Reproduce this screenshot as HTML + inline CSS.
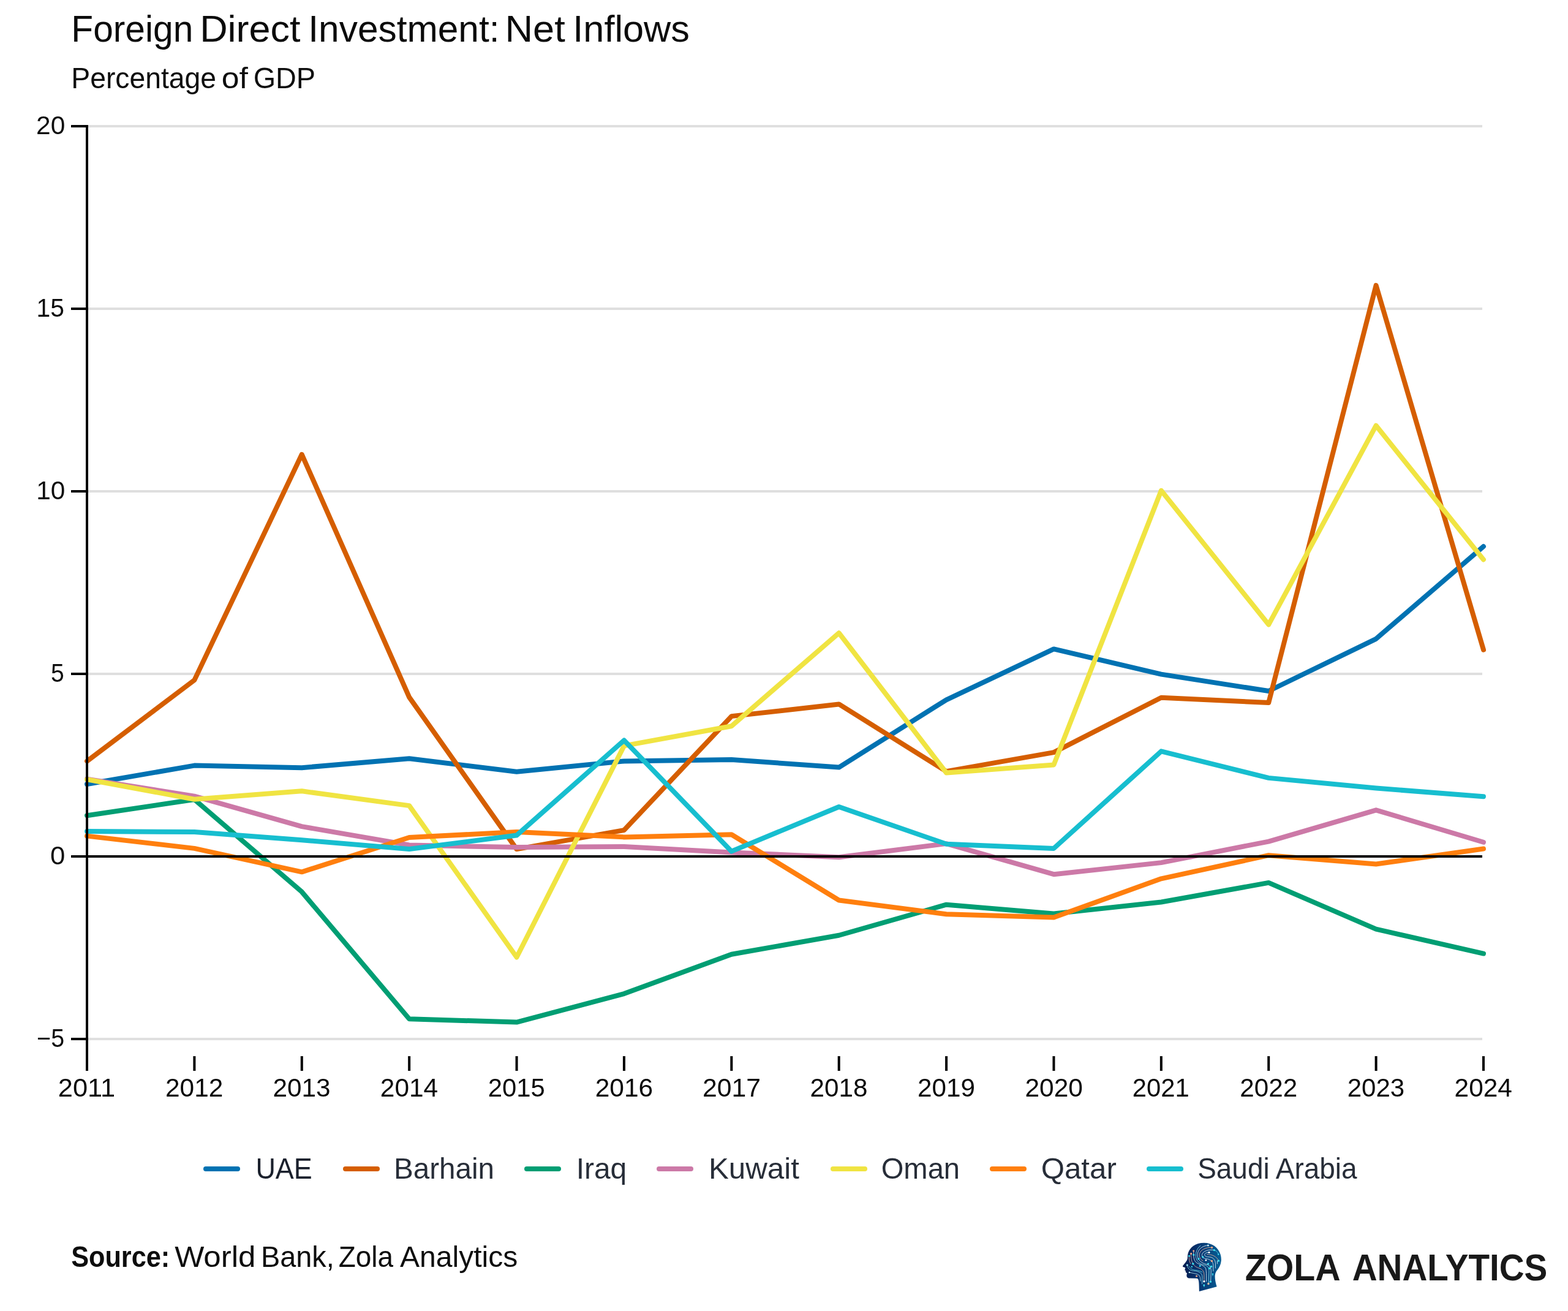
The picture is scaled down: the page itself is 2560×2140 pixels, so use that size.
<!DOCTYPE html>
<html lang="en">
<head>
<meta charset="utf-8">
<title>Foreign Direct Investment: Net Inflows</title>
<style>
html,body{margin:0;padding:0;background:#fff;}
body{width:2560px;height:2140px;overflow:hidden;}
svg{display:block;}
text{font-family:"Liberation Sans",sans-serif;}
</style>
</head>
<body>
<svg width="2560" height="2140" viewBox="0 0 2560 2140">
<rect width="2560" height="2140" fill="#fff"/>
<!-- title -->
<text y="67.9" font-size="60.5" fill-opacity="0.955"><tspan x="116.33" textLength="198.97" lengthAdjust="spacingAndGlyphs">Foreign</tspan> <tspan x="326.17" textLength="164.38" lengthAdjust="spacingAndGlyphs">Direct</tspan> <tspan x="503.33" textLength="312.12" lengthAdjust="spacingAndGlyphs">Investment:</tspan> <tspan x="824.5" textLength="98.16" lengthAdjust="spacingAndGlyphs">Net</tspan> <tspan x="935.33" textLength="190.56" lengthAdjust="spacingAndGlyphs">Inflows</tspan></text>
<text y="143.8" font-size="48" fill-opacity="0.945"><tspan x="116.33" textLength="236.77" lengthAdjust="spacingAndGlyphs">Percentage</tspan> <tspan x="361.67" textLength="43.12" lengthAdjust="spacingAndGlyphs">of</tspan> <tspan x="413.67" textLength="101.39" lengthAdjust="spacingAndGlyphs">GDP</tspan></text>
<!-- grid -->
<g stroke="#dfdfdf" stroke-width="4" fill="none">
<line x1="144" y1="206" x2="2420" y2="206"/>
<line x1="144" y1="504" x2="2420" y2="504"/>
<line x1="144" y1="802" x2="2420" y2="802"/>
<line x1="144" y1="1100" x2="2420" y2="1100"/>
<line x1="144" y1="1696" x2="2420" y2="1696"/>
</g>
<!-- series -->
<g fill="none" stroke-width="8" stroke-linecap="round" stroke-linejoin="round">
<polyline stroke="#0072B2" points="142,1279.99 317.38,1249.6 492.77,1253.17 668.15,1238.27 843.54,1259.73 1018.92,1242.44 1194.31,1240.06 1369.69,1252.58 1545.08,1142.32 1720.46,1059.47 1895.85,1100.6 2071.23,1128.01 2246.62,1042.78 2422,892"/>
<polyline stroke="#D55E00" points="142,1242.44 317.38,1110.13 492.77,741.8 668.15,1138.14 843.54,1386.08 1018.92,1355.09 1194.31,1169.14 1369.69,1149.47 1545.08,1259.13 1720.46,1228.14 1895.85,1138.74 2071.23,1147.08 2246.62,465.86 2422,1060.66"/>
<polyline stroke="#009E73" points="142,1331.25 317.38,1305.02 492.77,1455.81 668.15,1663.22 843.54,1668.58 1018.92,1622.1 1194.31,1557.73 1369.69,1526.74 1545.08,1476.67 1720.46,1491.57 1895.85,1472.5 2071.23,1440.91 2246.62,1516.6 2422,1556.54"/>
<polyline stroke="#CC79A7" points="142,1271.65 317.38,1299.66 492.77,1349.13 668.15,1379.52 843.54,1383.1 1018.92,1381.91 1194.31,1391.44 1369.69,1399.19 1545.08,1377.14 1720.46,1427.2 1895.85,1408.13 2071.23,1373.56 2246.62,1322.31 2422,1374.76"/>
<polyline stroke="#F0E442" points="142,1272.24 317.38,1304.73 492.77,1291.32 668.15,1315.16 843.54,1562.5 1018.92,1217.41 1194.31,1185.23 1369.69,1033.25 1545.08,1261.52 1720.46,1248.4 1895.85,800.81 2071.23,1019.54 2246.62,694.72 2422,913.45"/>
<polyline stroke="#FF7F0E" points="142,1364.62 317.38,1384.89 492.77,1423.33 668.15,1367.01 843.54,1358.07 1018.92,1366.41 1194.31,1362.24 1369.69,1469.52 1545.08,1492.17 1720.46,1497.53 1895.85,1434.36 2071.23,1396.21 2246.62,1410.52 2422,1385.48"/>
<polyline stroke="#17BECF" points="142,1356.88 317.38,1358.07 492.77,1371.18 668.15,1386.08 843.54,1363.43 1018.92,1208.47 1194.31,1389.66 1369.69,1316.94 1545.08,1377.74 1720.46,1384.89 1895.85,1226.35 2071.23,1269.86 2246.62,1286.55 2422,1300.26"/>
</g>
<!-- axes -->
<g stroke="#000" stroke-width="4" fill="none">
<line x1="142" y1="1398" x2="2420" y2="1398"/>
<line x1="142" y1="204" x2="142" y2="1748"/>
<line x1="116" y1="206" x2="142" y2="206"/>
<line x1="116" y1="504" x2="142" y2="504"/>
<line x1="116" y1="802" x2="142" y2="802"/>
<line x1="116" y1="1100" x2="142" y2="1100"/>
<line x1="116" y1="1398" x2="142" y2="1398"/>
<line x1="116" y1="1696" x2="142" y2="1696"/>
<line x1="317.38" y1="1724" x2="317.38" y2="1748"/>
<line x1="492.77" y1="1724" x2="492.77" y2="1748"/>
<line x1="668.15" y1="1724" x2="668.15" y2="1748"/>
<line x1="843.54" y1="1724" x2="843.54" y2="1748"/>
<line x1="1018.92" y1="1724" x2="1018.92" y2="1748"/>
<line x1="1194.31" y1="1724" x2="1194.31" y2="1748"/>
<line x1="1369.69" y1="1724" x2="1369.69" y2="1748"/>
<line x1="1545.08" y1="1724" x2="1545.08" y2="1748"/>
<line x1="1720.46" y1="1724" x2="1720.46" y2="1748"/>
<line x1="1895.85" y1="1724" x2="1895.85" y2="1748"/>
<line x1="2071.23" y1="1724" x2="2071.23" y2="1748"/>
<line x1="2246.62" y1="1724" x2="2246.62" y2="1748"/>
<line x1="2422" y1="1724" x2="2422" y2="1748"/>
</g>
<!-- tick labels -->
<text x="59.1" y="218.9" font-size="41.6" textLength="47.27" lengthAdjust="spacingAndGlyphs" fill-opacity="0.95">20</text>
<text x="59.6" y="516.9" font-size="41.6" textLength="45.44" lengthAdjust="spacingAndGlyphs" fill-opacity="0.95">15</text>
<text x="59.27" y="814.9" font-size="41.6" textLength="47.11" lengthAdjust="spacingAndGlyphs" fill-opacity="0.95">10</text>
<text x="83.08" y="1112.9" font-size="41.6" textLength="21.78" lengthAdjust="spacingAndGlyphs" fill-opacity="0.95">5</text>
<text x="82.08" y="1410.9" font-size="41.6" textLength="24.33" lengthAdjust="spacingAndGlyphs" fill-opacity="0.95">0</text>
<text x="60.1" y="1708.9" font-size="41.6" textLength="45" lengthAdjust="spacingAndGlyphs" fill-opacity="0.95">−5</text>
<text x="94.77" y="1790" font-size="41.6" textLength="93.3" lengthAdjust="spacingAndGlyphs" fill-opacity="0.97">2011</text>
<text x="270" y="1790" font-size="41.6" textLength="94.36" lengthAdjust="spacingAndGlyphs" fill-opacity="0.97">2012</text>
<text x="445.4" y="1790" font-size="41.6" textLength="94.01" lengthAdjust="spacingAndGlyphs" fill-opacity="0.97">2013</text>
<text x="620.85" y="1790" font-size="41.6" textLength="94.35" lengthAdjust="spacingAndGlyphs" fill-opacity="0.97">2014</text>
<text x="796.75" y="1790" font-size="41.6" textLength="92.97" lengthAdjust="spacingAndGlyphs" fill-opacity="0.97">2015</text>
<text x="971.7" y="1790" font-size="41.6" textLength="94.53" lengthAdjust="spacingAndGlyphs" fill-opacity="0.97">2016</text>
<text x="1147.1" y="1790" font-size="41.6" textLength="94.97" lengthAdjust="spacingAndGlyphs" fill-opacity="0.97">2017</text>
<text x="1322.55" y="1790" font-size="41.6" textLength="93.92" lengthAdjust="spacingAndGlyphs" fill-opacity="0.97">2018</text>
<text x="1497.95" y="1790" font-size="41.6" textLength="93.92" lengthAdjust="spacingAndGlyphs" fill-opacity="0.97">2019</text>
<text x="1673.4" y="1790" font-size="41.6" textLength="94.52" lengthAdjust="spacingAndGlyphs" fill-opacity="0.97">2020</text>
<text x="1848.8" y="1790" font-size="41.6" textLength="92.88" lengthAdjust="spacingAndGlyphs" fill-opacity="0.97">2021</text>
<text x="2024.25" y="1790" font-size="41.6" textLength="93.84" lengthAdjust="spacingAndGlyphs" fill-opacity="0.97">2022</text>
<text x="2199.65" y="1790" font-size="41.6" textLength="93.49" lengthAdjust="spacingAndGlyphs" fill-opacity="0.97">2023</text>
<text x="2374.6" y="1790" font-size="41.6" textLength="94.35" lengthAdjust="spacingAndGlyphs" fill-opacity="0.97">2024</text>
<!-- legend -->
<g stroke-width="8" stroke-linecap="round" fill="none">
<line stroke="#0072B2" x1="336" y1="1908" x2="388" y2="1908"/>
<line stroke="#D55E00" x1="564" y1="1908" x2="616" y2="1908"/>
<line stroke="#009E73" x1="860" y1="1908" x2="912" y2="1908"/>
<line stroke="#CC79A7" x1="1076" y1="1908" x2="1128" y2="1908"/>
<line stroke="#F0E442" x1="1360" y1="1908" x2="1412" y2="1908"/>
<line stroke="#FF7F0E" x1="1620" y1="1908" x2="1672" y2="1908"/>
<line stroke="#17BECF" x1="1876" y1="1908" x2="1928" y2="1908"/>
</g>
<text x="417.42" y="1924" font-size="48" fill="#1a202c" textLength="92.44" lengthAdjust="spacingAndGlyphs">UAE</text>
<text x="643" y="1924" font-size="48" fill="#1a202c" textLength="164.06" lengthAdjust="spacingAndGlyphs" fill-opacity="0.94">Barhain</text>
<text x="940.67" y="1924" font-size="48" fill="#1a202c" textLength="82.57" lengthAdjust="spacingAndGlyphs" fill-opacity="0.94">Iraq</text>
<text x="1157" y="1924" font-size="48" fill="#1a202c" textLength="147.82" lengthAdjust="spacingAndGlyphs" fill-opacity="0.94">Kuwait</text>
<text x="1438.67" y="1924" font-size="48" fill="#1a202c" textLength="128.44" lengthAdjust="spacingAndGlyphs" fill-opacity="0.94">Oman</text>
<text x="1699.67" y="1924" font-size="48" fill="#1a202c" textLength="123.12" lengthAdjust="spacingAndGlyphs" fill-opacity="0.94">Qatar</text>
<text x="1955.17" y="1924" font-size="48" fill="#1a202c" textLength="260.45" lengthAdjust="spacingAndGlyphs" fill-opacity="0.94">Saudi Arabia</text>
<!-- source -->
<text y="2067.6" font-size="48" fill-opacity="0.95"><tspan x="116.17" font-weight="bold" textLength="161.09" lengthAdjust="spacingAndGlyphs">Source:</tspan> <tspan x="285.17" textLength="132.27" lengthAdjust="spacingAndGlyphs">World</tspan> <tspan x="426" textLength="119.64" lengthAdjust="spacingAndGlyphs">Bank,</tspan> <tspan x="552.67" textLength="89.25" lengthAdjust="spacingAndGlyphs">Zola</tspan> <tspan x="653" textLength="192.26" lengthAdjust="spacingAndGlyphs">Analytics</tspan></text>
<!-- logo -->
<defs>
<linearGradient id="hg" x1="0" y1="0" x2="1" y2="0">
<stop offset="0" stop-color="#081c4f"/><stop offset="0.35" stop-color="#06306b"/><stop offset="1" stop-color="#075f96"/>
</linearGradient>
</defs>
<g transform="translate(1915 2015) scale(0.059844)">
<path fill="url(#hg)" d="M850 228 C1010 228 1150 300 1235 420 C1300 510 1325 620 1316 720 C1308 820 1270 900 1215 965 C1175 1010 1152 1060 1147 1120 C1142 1200 1160 1290 1178 1360 L1197 1424 L716 1553 L712 1400 C710 1320 705 1260 690 1228 C682 1208 672 1198 650 1197 L470 1196 C410 1196 382 1178 375 1140 C370 1105 378 1080 386 1062 C375 1048 352 1040 346 1020 C343 1008 350 1000 350 992 C340 985 324 980 324 968 C324 955 334 945 336 925 C338 910 332 902 320 898 L285 890 C266 885 262 868 272 852 L345 760 C370 728 388 700 394 670 C400 640 398 610 402 570 C410 480 460 390 540 325 C620 262 730 228 850 228 Z"/>
<g fill="none" stroke-width="15" opacity="0.92" stroke-linecap="round" stroke-linejoin="round">
<path stroke="#e9f3f8" d="M960 300 C800 305 672 410 670 560 C668 710 800 790 920 818 C1010 840 1040 900 1040 1000 L1030 1285"/>
<path stroke="#8fe3ee" d="M750 308 C650 380 618 500 626 610 C634 720 720 800 850 832 C950 855 985 905 985 1000 L970 1340"/>
<path stroke="#f3b49a" d="M1060 357 C900 345 722 425 722 560 C722 640 760 690 815 720"/>
<path stroke="#e9f3f8" d="M1125 427 C980 400 800 455 792 560 C790 620 830 652 905 662 C1000 672 1090 725 1100 830 L1100 1000"/>
<path stroke="#e9f3f8" d="M985 492 C900 490 862 520 866 562 C870 600 920 612 1000 616 C1100 622 1160 700 1160 800 L1160 920"/>
<path stroke="#f3b49a" d="M930 547 C1060 540 1200 600 1245 720"/>
<path stroke="#5fdff0" d="M1125 427 C1195 450 1235 500 1240 545"/>
<path stroke="#e9f3f8" d="M1210 720 L1210 800"/>
<path stroke="#e9f3f8" d="M565 455 L565 560 C565 680 600 765 700 802 C800 838 882 872 900 950 C915 1010 915 1200 910 1285"/>
<path stroke="#f3b49a" d="M495 525 C490 640 500 720 548 800 C582 858 640 898 700 915 C800 940 850 1000 850 1100 L850 1280"/>
<path stroke="#f3b49a" d="M440 592 C435 680 450 750 482 800"/>
<path stroke="#8fe3ee" d="M390 838 C400 920 450 985 560 993 C700 1003 800 1050 800 1150 L795 1350"/>
<path stroke="#5fdff0" d="M440 872 C470 930 520 962 600 972 C700 985 760 1000 800 1030"/>
<path stroke="#bfeaf2" d="M450 1037 C550 1062 620 1062 680 1092 C740 1122 750 1180 750 1270"/>
<path stroke="#5fdff0" d="M1085 1082 L1085 1130 M850 1388 L850 1430"/>
</g>
<g>
<circle cx="960" cy="300" r="24" fill="#cfeef5"/><circle cx="1062" cy="358" r="27" fill="#f4a886"/>
<circle cx="1126" cy="427" r="27" fill="#3fe3f2"/><circle cx="986" cy="490" r="26" fill="#ffffff"/>
<circle cx="1240" cy="545" r="20" fill="#3fe3f2"/><circle cx="1246" cy="720" r="26" fill="#3fe3f2"/>
<circle cx="563" cy="450" r="24" fill="#f4a886"/><circle cx="496" cy="525" r="26" fill="#f4a886"/>
<circle cx="566" cy="556" r="26" fill="#3fe3f2"/><circle cx="442" cy="590" r="24" fill="#3fe3f2"/>
<circle cx="815" cy="616" r="27" fill="#3fe3f2"/><circle cx="700" cy="666" r="27" fill="#3fe3f2"/>
<circle cx="900" cy="705" r="22" fill="#ffffff"/><circle cx="1060" cy="726" r="27" fill="#f4a886"/>
<circle cx="548" cy="800" r="28" fill="#3fe3f2"/><circle cx="960" cy="803" r="26" fill="#3fe3f2"/>
<circle cx="390" cy="836" r="26" fill="#9fe8f2"/><circle cx="738" cy="860" r="24" fill="#3fe3f2"/>
<circle cx="515" cy="880" r="20" fill="#3fe3f2"/><circle cx="1046" cy="876" r="27" fill="#3fe3f2"/>
<circle cx="995" cy="926" r="26" fill="#3fe3f2"/><circle cx="450" cy="1036" r="22" fill="#bfeaf2"/>
<circle cx="1085" cy="1080" r="20" fill="#3fe3f2"/><circle cx="645" cy="1136" r="26" fill="#f4a886"/>
<circle cx="850" cy="1282" r="27" fill="#ffffff"/><circle cx="1026" cy="1290" r="27" fill="#3fe3f2"/>
<circle cx="968" cy="1345" r="28" fill="#f7c9a0"/><circle cx="848" cy="1386" r="25" fill="#3fe3f2"/>
</g>
</g>
<text y="2089.8" font-size="60.75" font-weight="bold" fill-opacity="0.9"><tspan x="2032.83" textLength="153.7" lengthAdjust="spacingAndGlyphs">ZOLA</tspan> <tspan x="2207.67" textLength="318.64" lengthAdjust="spacingAndGlyphs">ANALYTICS</tspan></text>
</svg>
</body>
</html>
